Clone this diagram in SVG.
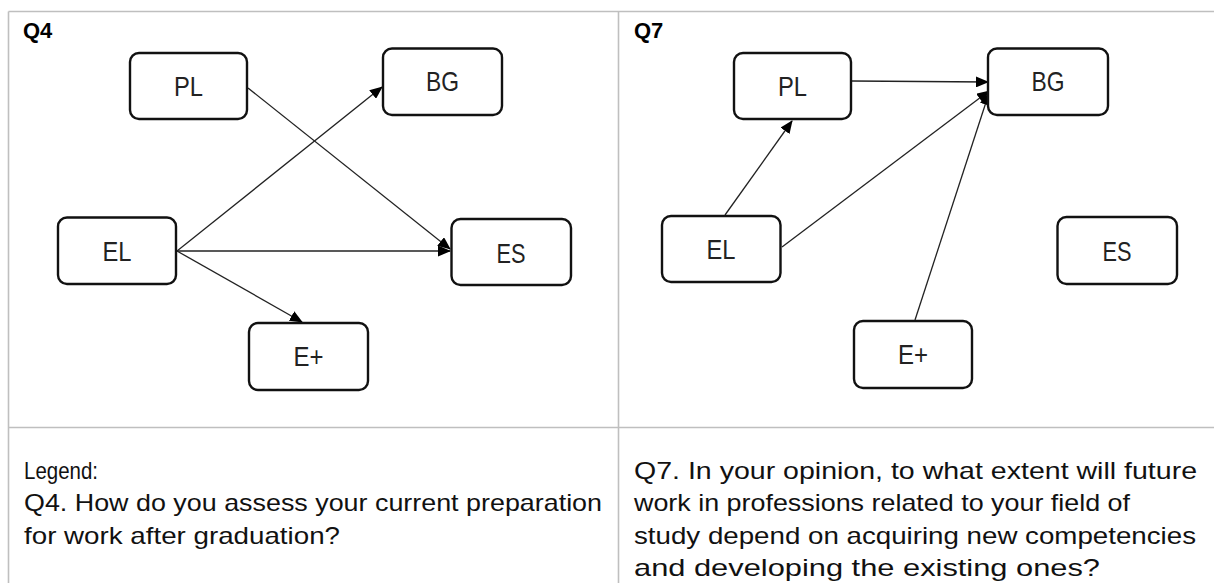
<svg xmlns="http://www.w3.org/2000/svg" width="1214" height="583" viewBox="0 0 1214 583">
<defs>
<style>
.grid{stroke:#bfbfbf;stroke-width:1.6;fill:none}
.node rect{fill:#fff;stroke:#111;stroke-width:2.4}
.node text{font-family:"Liberation Sans",Arial,sans-serif;font-size:28px;fill:#222;text-anchor:middle}
.title{font-family:"Liberation Sans",Arial,sans-serif;font-size:22px;font-weight:bold;fill:#000}
.body{font-family:"Liberation Sans",Arial,sans-serif;font-size:24px;fill:#111}
.edge{stroke:#222;stroke-width:1.3;fill:none;marker-end:url(#ah)}
</style>
<marker id="ah" viewBox="0 0 13 11" refX="12" refY="5.5" markerWidth="13" markerHeight="11" markerUnits="userSpaceOnUse" orient="auto">
<path d="M0,0 L13,5.5 L0,11 Z" fill="#000"/>
</marker>
</defs>
<rect width="1214" height="583" fill="#fff"/>
<g id="table">
<line class="grid" x1="8.5" y1="11.5" x2="1214" y2="11.5"/>
<line class="grid" x1="8.5" y1="11.5" x2="8.5" y2="583"/>
<line class="grid" x1="618.5" y1="11.5" x2="618.5" y2="583"/>
<line class="grid" x1="8.5" y1="427.5" x2="1214" y2="427.5"/>
</g>
<text class="title" x="23" y="38">Q4</text>
<text class="title" x="634" y="38">Q7</text>
<g id="connectors">
<path class="edge" d="M248,88 L450,249"/>
<path class="edge" d="M177,251 L382,87"/>
<path class="edge" d="M177,251 L450,251"/>
<path class="edge" d="M177,251 L302,322"/>
<path class="edge" d="M852,81 L988,82"/>
<path class="edge" d="M725,215 L792,121"/>
<path class="edge" d="M782,247 L989,91"/>
<path class="edge" d="M915,320 L989,93"/>
</g>
<g id="q4-PL" class="node"><rect x="130" y="53" width="117" height="66" rx="9"/><text x="188.5" y="96" textLength="29" lengthAdjust="spacingAndGlyphs">PL</text></g>
<g id="q4-BG" class="node"><rect x="383" y="48.5" width="119" height="66.5" rx="9"/><text x="442.5" y="91" textLength="33" lengthAdjust="spacingAndGlyphs">BG</text></g>
<g id="q4-EL" class="node"><rect x="58" y="217.5" width="118" height="66.5" rx="9"/><text x="117" y="261" textLength="29" lengthAdjust="spacingAndGlyphs">EL</text></g>
<g id="q4-ES" class="node"><rect x="451.5" y="219" width="119.5" height="66" rx="9"/><text x="511" y="263" textLength="29" lengthAdjust="spacingAndGlyphs">ES</text></g>
<g id="q4-Eplus" class="node"><rect x="249" y="323" width="119" height="67" rx="9"/><text x="308.5" y="366" textLength="30" lengthAdjust="spacingAndGlyphs">E+</text></g>
<g id="q7-PL" class="node"><rect x="734" y="53" width="117" height="66" rx="9"/><text x="792.5" y="96" textLength="29" lengthAdjust="spacingAndGlyphs">PL</text></g>
<g id="q7-BG" class="node"><rect x="988" y="48.5" width="120" height="66.5" rx="9"/><text x="1048" y="91" textLength="33" lengthAdjust="spacingAndGlyphs">BG</text></g>
<g id="q7-EL" class="node"><rect x="662" y="216" width="118.5" height="66" rx="9"/><text x="721" y="259" textLength="29" lengthAdjust="spacingAndGlyphs">EL</text></g>
<g id="q7-ES" class="node"><rect x="1057.5" y="217" width="119.5" height="67" rx="9"/><text x="1117" y="261" textLength="29" lengthAdjust="spacingAndGlyphs">ES</text></g>
<g id="q7-Eplus" class="node"><rect x="854" y="321" width="118" height="67" rx="9"/><text x="913" y="364" textLength="30" lengthAdjust="spacingAndGlyphs">E+</text></g>
<g id="legend">
<text class="body" x="24" y="479" textLength="74" lengthAdjust="spacingAndGlyphs">Legend:</text>
<text class="body" x="24" y="511" textLength="578" lengthAdjust="spacingAndGlyphs">Q4. How do you assess your current preparation</text>
<text class="body" x="24" y="544" textLength="316" lengthAdjust="spacingAndGlyphs">for work after graduation?</text>
<text class="body" x="634" y="479" textLength="563" lengthAdjust="spacingAndGlyphs">Q7. In your opinion, to what extent will future</text>
<text class="body" x="634" y="511" textLength="496" lengthAdjust="spacingAndGlyphs">work in professions related to your field of</text>
<text class="body" x="634" y="544" textLength="562" lengthAdjust="spacingAndGlyphs">study depend on acquiring new competencies</text>
<text class="body" x="634" y="576" textLength="466" lengthAdjust="spacingAndGlyphs">and developing the existing ones?</text>
</g>
</svg>
